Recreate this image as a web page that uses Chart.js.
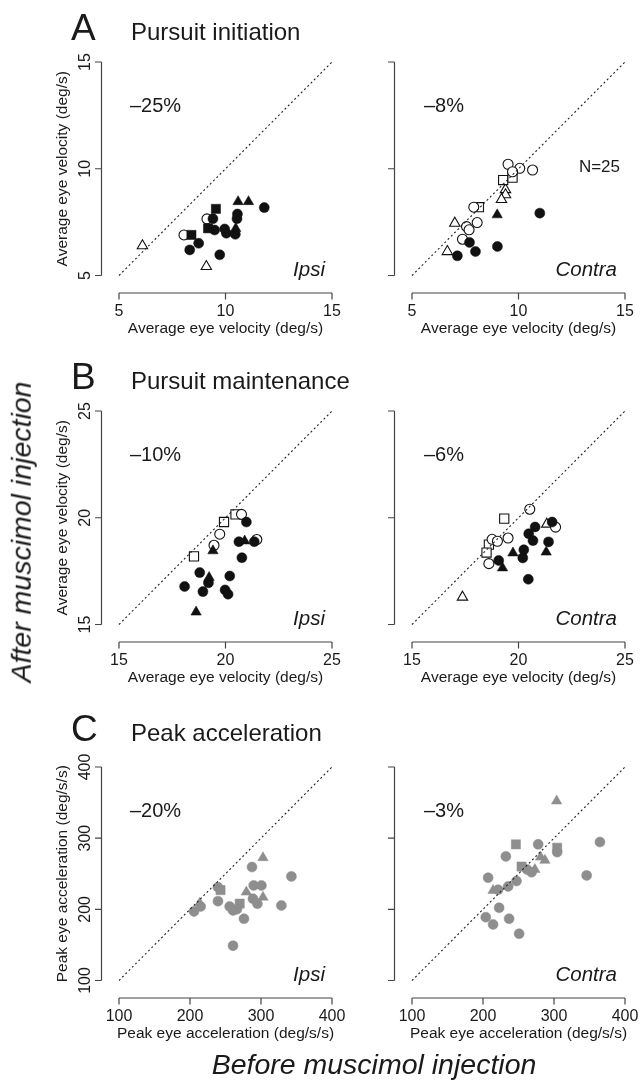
<!DOCTYPE html>
<html>
<head>
<meta charset="utf-8">
<script src="https://cdn.jsdelivr.net/npm/chart.js@4.4.1/dist/chart.umd.min.js"></script>
<style>
  html, body { margin: 0; padding: 0; background: #fff; }
  body { width: 640px; height: 1086px; position: relative; overflow: hidden;
         font-family: "Liberation Sans", Arial, sans-serif; color: #1a1a1a; }
  canvas { position: absolute; }
  .txt { position: absolute; line-height: 1; white-space: nowrap; }
</style>
</head>
<body>
<script>
// ticks
const velTicksA = [5, 10, 15];
const velTicksB = [15, 20, 25];
const accTicks = [100, 200, 300, 400];

// texts
const panelLetters = ['A', 'B', 'C'];
const panelTitles = ['Pursuit initiation', 'Pursuit maintenance', 'Peak acceleration'];
const velTitle = 'Average eye velocity (deg/s)';
const accTitle = 'Peak eye acceleration (deg/s/s)';
const pctIpsi = ['–25%', '–10%', '–20%'];
const pctContra = ['–8%', '–6%', '–3%'];

// A ipsi  [before, after]
const aIpsiFilledCircle = [[11.82, 8.18], [10.56, 7.88], [10.54, 7.66], [9.41, 7.66], [9.49, 7.13], [9.96, 7.18],
  [10.04, 6.98], [10.46, 6.93], [8.32, 6.20], [8.74, 6.51], [9.73, 5.97]];
const aIpsiFilledSquare = [[9.55, 8.12], [9.18, 7.21], [8.40, 6.90]];
const aIpsiFilledTriangle = [[10.59, 8.46], [11.08, 8.46], [10.48, 7.20]];
const aIpsiOpenCircle = [[9.13, 7.65], [8.05, 6.90]];
const aIpsiOpenTriangle = [[6.10, 6.39], [9.10, 5.42]];

// A contra
const aContraFilledCircle = [[11.0, 7.92], [7.70, 6.55], [7.98, 6.12], [7.13, 5.92], [9.01, 6.36]];
const aContraFilledTriangle = [[9.0, 7.84]];
const aContraOpenCircle = [[9.51, 10.21], [10.06, 10.02], [10.66, 9.94], [9.72, 9.86], [7.90, 8.20],
  [7.56, 7.29], [7.68, 7.14], [8.06, 7.48], [7.37, 6.70]];
const aContraOpenSquare = [[9.28, 9.47], [9.72, 9.58], [8.14, 8.20]];
const aContraOpenTriangle = [[9.39, 9.02], [9.39, 8.78], [9.20, 8.56], [7.01, 7.45], [6.66, 6.12]];

// B ipsi
const bIpsiFilledCircle = [[20.98, 19.80], [20.63, 18.88], [21.35, 18.88], [20.77, 18.13], [18.79, 17.43],
  [18.08, 16.78], [18.94, 16.54], [19.20, 16.95], [20.20, 17.27], [19.98, 16.62], [20.12, 16.42]];
const bIpsiFilledTriangle = [[19.41, 18.45], [19.23, 17.20], [20.90, 18.91], [18.62, 15.58]];
const bIpsiOpenCircle = [[20.75, 20.16], [19.73, 19.23], [19.46, 18.71], [21.47, 18.98]];
const bIpsiOpenSquare = [[20.47, 20.16], [19.93, 19.80], [18.52, 18.19]];

// B contra
const bContraFilledCircle = [[21.58, 19.80], [20.78, 19.57], [20.48, 19.25], [20.68, 18.93], [21.41, 18.87],
  [20.25, 18.50], [20.20, 18.12], [20.46, 17.12], [19.07, 18.0]];
const bContraFilledTriangle = [[19.74, 18.35], [19.25, 17.65], [21.30, 18.39]];
const bContraOpenCircle = [[20.53, 20.40], [21.74, 19.56], [19.51, 19.05], [18.76, 18.99], [19.01, 18.90],
  [18.61, 17.85]];
const bContraOpenSquare = [[19.33, 19.96], [18.61, 18.74], [18.50, 18.37]];
const bContraOpenTriangle = [[21.33, 19.70], [17.37, 16.28]];

// C ipsi
const cIpsiCircle = [[205.6, 197], [215, 204], [239.4, 211.5], [239.4, 231], [255.9, 204], [260.6, 198.5],
  [276, 186.8], [260.6, 149], [287.3, 259.4], [289.7, 233.6], [300.6, 233.6], [288.7, 214.9],
  [294.9, 207.9], [328.7, 205.5], [342.8, 246.3], [266, 200]];
const cIpsiSquare = [[243, 227], [270, 208]];
const cIpsiTriangle = [[213.7, 208.7], [302.8, 272.6], [279.4, 224.2], [302.8, 217]];

// C contra
const cContraCircle = [[364.7, 294.5], [277.7, 291.3], [304.5, 280.4], [232.2, 274.4], [268.4, 252.1],
  [207.2, 244.5], [346, 247.7], [247.2, 239.7], [235.4, 232.2], [221.3, 227.6], [222.7, 202.2],
  [203.9, 189], [214.2, 178.8], [236.8, 186.8], [250.9, 165.7], [262, 256]];
const cContraSquare = [[246.3, 291.3], [304.5, 286.6], [254.3, 260.1]];
const cContraTriangle = [[303.7, 352.2], [281.1, 273.4], [287.2, 268.8], [273.1, 255.8], [214.2, 226.6]];

const BLACK = '#111';
const GRAY = '#8e8e8e';
const FONT = '"Liberation Sans", Arial, sans-serif';

// ejes tipo R: separados del área y solo entre el primer y último tick
const rAxes = {
  id: 'rAxes',
  afterDraw(chart, args, opts) {
    const { ctx, chartArea } = chart;
    const xs = chart.scales.x, ys = chart.scales.y;
    const off = 17.5, tl = 6.5;
    const t = opts.ticks;
    const yAx = chartArea.bottom + off;
    const xAx = chartArea.left - off;
    ctx.save();
    ctx.strokeStyle = '#444';
    ctx.lineWidth = 1.2;
    ctx.beginPath();
    ctx.moveTo(xs.getPixelForValue(t[0]), yAx);
    ctx.lineTo(xs.getPixelForValue(t[t.length - 1]), yAx);
    t.forEach(v => { const p = xs.getPixelForValue(v); ctx.moveTo(p, yAx); ctx.lineTo(p, yAx + tl); });
    ctx.moveTo(xAx, ys.getPixelForValue(t[0]));
    ctx.lineTo(xAx, ys.getPixelForValue(t[t.length - 1]));
    t.forEach(v => { const p = ys.getPixelForValue(v); ctx.moveTo(xAx, p); ctx.lineTo(xAx - tl, p); });
    ctx.stroke();

    ctx.fillStyle = '#1a1a1a';
    ctx.textAlign = 'center';
    ctx.textBaseline = 'middle';
    ctx.font = '16px ' + FONT;
    t.forEach(v => ctx.fillText(String(v), xs.getPixelForValue(v), yAx + 18.5));
    ctx.font = '15.5px ' + FONT;
    ctx.fillText(opts.title, (chartArea.left + chartArea.right) / 2, yAx + 35.5);
    if (opts.showY) {
      ctx.font = '16px ' + FONT;
      t.forEach(v => {
        ctx.save();
        ctx.translate(xAx - 15.7, ys.getPixelForValue(v));
        ctx.rotate(-Math.PI / 2);
        ctx.fillText(String(v), 0, 0);
        ctx.restore();
      });
      ctx.font = '15.5px ' + FONT;
      ctx.save();
      ctx.translate(xAx - 38.7, (chartArea.top + chartArea.bottom) / 2);
      ctx.rotate(-Math.PI / 2);
      ctx.fillText(opts.title, 0, 0);
      ctx.restore();
    }
    ctx.restore();
  }
};

function serie(pts, style, filled, color) {
  const r = style === 'circle' ? 5 : (style === 'rect' ? 6.5 : 6);
  return {
    data: pts.map(p => ({ x: p[0], y: p[1] })),
    pointStyle: style,
    pointRadius: r,
    backgroundColor: filled ? color : '#fff',
    borderColor: color,
    borderWidth: filled ? 0.5 : 1.1,
    showLine: false,
    clip: false
  };
}

const rowTops = [32, 381, 737];
const sideLefts = [29, 322];

function makePanel(row, side, ticks, title, sets) {
  const cv = document.createElement('canvas');
  cv.width = 340; cv.height = 330;
  cv.style.left = sideLefts[side] + 'px';
  cv.style.top = rowTops[row] + 'px';
  document.body.appendChild(cv);
  const lo = ticks[0], hi = ticks[ticks.length - 1];
  const diag = {
    data: [{ x: lo, y: lo }, { x: hi, y: hi }],
    showLine: true,
    borderColor: '#222',
    borderWidth: 1.1,
    borderDash: [2, 2.6],
    pointRadius: 0,
    clip: false
  };
  return new Chart(cv.getContext('2d'), {
    type: 'scatter',
    data: { datasets: [diag].concat(sets) },
    options: {
      responsive: false,
      animation: false,
      events: [],
      devicePixelRatio: 1,
      layout: { padding: { left: 90, top: 30, right: 37, bottom: 86.5 } },
      scales: {
        x: { type: 'linear', min: lo, max: hi, display: false },
        y: { type: 'linear', min: lo, max: hi, display: false }
      },
      plugins: {
        legend: { display: false },
        tooltip: { enabled: false },
        rAxes: { ticks: ticks, title: title, showY: side === 0 }
      }
    },
    plugins: [rAxes]
  });
}

function label(text, x, baseline, size, opts) {
  opts = opts || {};
  const d = document.createElement('div');
  d.className = 'txt';
  d.textContent = text;
  d.style.fontSize = size + 'px';
  d.style.top = (baseline - 0.8465 * size) + 'px';
  if (opts.right) d.style.right = (640 - x) + 'px'; else d.style.left = x + 'px';
  if (opts.italic) d.style.fontStyle = 'italic';
  document.body.appendChild(d);
  return d;
}

// paneles
makePanel(0, 0, velTicksA, velTitle, [
  serie(aIpsiFilledTriangle, 'triangle', true, BLACK),
  serie(aIpsiFilledSquare, 'rect', true, BLACK),
  serie(aIpsiFilledCircle, 'circle', true, BLACK),
  serie(aIpsiOpenCircle, 'circle', false, BLACK),
  serie(aIpsiOpenTriangle, 'triangle', false, BLACK)
]);
makePanel(0, 1, velTicksA, velTitle, [
  serie(aContraFilledTriangle, 'triangle', true, BLACK),
  serie(aContraFilledCircle, 'circle', true, BLACK),
  serie(aContraOpenCircle, 'circle', false, BLACK),
  serie(aContraOpenSquare, 'rect', false, BLACK),
  serie(aContraOpenTriangle, 'triangle', false, BLACK)
]);
makePanel(1, 0, velTicksB, velTitle, [
  serie(bIpsiFilledTriangle, 'triangle', true, BLACK),
  serie(bIpsiFilledCircle, 'circle', true, BLACK),
  serie(bIpsiOpenCircle, 'circle', false, BLACK),
  serie(bIpsiOpenSquare, 'rect', false, BLACK)
]);
makePanel(1, 1, velTicksB, velTitle, [
  serie(bContraFilledTriangle, 'triangle', true, BLACK),
  serie(bContraFilledCircle, 'circle', true, BLACK),
  serie(bContraOpenCircle, 'circle', false, BLACK),
  serie(bContraOpenSquare, 'rect', false, BLACK),
  serie(bContraOpenTriangle, 'triangle', false, BLACK)
]);
makePanel(2, 0, accTicks, accTitle, [
  serie(cIpsiTriangle, 'triangle', true, GRAY),
  serie(cIpsiSquare, 'rect', true, GRAY),
  serie(cIpsiCircle, 'circle', true, GRAY)
]);
makePanel(2, 1, accTicks, accTitle, [
  serie(cContraTriangle, 'triangle', true, GRAY),
  serie(cContraSquare, 'rect', true, GRAY),
  serie(cContraCircle, 'circle', true, GRAY)
]);

// textos
const headBase = [40, 389, 741];
for (let i = 0; i < 3; i++) {
  const top = rowTops[i] + 30;
  const bottom = top + 213.5;
  label(panelLetters[i], 71, headBase[i], 37);
  label(panelTitles[i], 131, headBase[i], 24);
  label(pctIpsi[i], 130, top + 50, 20);
  label(pctContra[i], 424, top + 50, 20);
  label('Ipsi', 325, bottom + 1, 20.5, { right: true, italic: true });
  label('Contra', 617, bottom + 1, 20.5, { right: true, italic: true });
}
label('N=25', 620, 172, 17, { right: true });

const before = label('Before muscimol injection', 374, 1074, 28.5, { italic: true });
before.style.transform = 'translateX(-50%)';

const after = document.createElement('div');
after.className = 'txt';
after.textContent = 'After muscimol injection';
after.style.fontSize = '28.5px';
after.style.fontStyle = 'italic';
after.style.left = '21px';
after.style.top = '532px';
after.style.transform = 'translate(-50%, -50%) rotate(-90deg)';
document.body.appendChild(after);
</script>
</body>
</html>
